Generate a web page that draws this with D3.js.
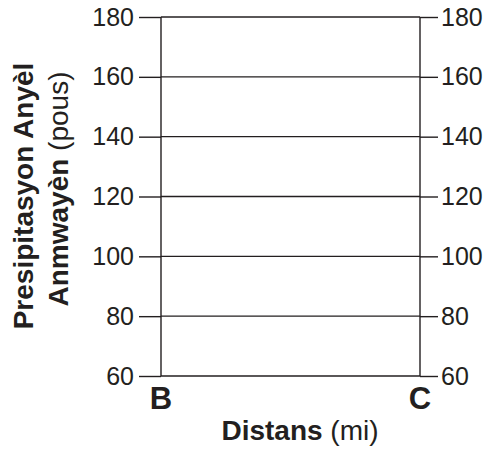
<!DOCTYPE html>
<html>
<head>
<meta charset="utf-8">
<script src="https://cdn.jsdelivr.net/npm/d3@7"></script>
<style>
  body { margin: 0; background: #fff; }
  svg { font-family: "Liberation Sans", Arial, Helvetica, sans-serif; }
  .axis text { font-size: 25px; fill: #231f20; }
  .axis line { stroke: #231f20; stroke-width: 1.4; }
  .axis path { display: none; }
</style>
</head>
<body>
<svg id="chart" width="488" height="454"></svg>
<script>
const places = ['B', 'C'];
const yTicks = [60, 80, 100, 120, 140, 160, 180];
const yRange = [60, 180];

const ink = '#231f20';

const svg = d3.select('#chart');

const xScale = d3.scalePoint().domain(places).range([161, 420]);
const yScale = d3.scaleLinear().domain(yRange).range([376, 17]);

// horizontal grid
svg.append('g')
  .selectAll('line')
  .data(yTicks)
  .enter().append('line')
    .attr('x1', xScale('B'))
    .attr('x2', xScale('C'))
    .attr('y1', d => yScale(d))
    .attr('y2', d => yScale(d))
    .style('stroke', ink)
    .style('stroke-width', 1.4);

// vertical lines at B and C
svg.append('g')
  .selectAll('line')
  .data(places)
  .enter().append('line')
    .attr('x1', d => xScale(d))
    .attr('x2', d => xScale(d))
    .attr('y1', yScale(yRange[0]))
    .attr('y2', yScale(yRange[1]))
    .style('stroke', ink)
    .style('stroke-width', 1.4);

svg.append('g')
  .attr('class', 'axis')
  .attr('transform', translate(xScale('B'), 0))
  .call(d3.axisLeft(yScale).tickValues(yTicks).tickSize(22).tickPadding(5));

svg.append('g')
  .attr('class', 'axis')
  .attr('transform', translate(xScale('C'), 0))
  .call(d3.axisRight(yScale).tickValues(yTicks).tickSize(18).tickPadding(3));

// B / C labels
svg.append('g')
  .selectAll('text')
  .data(places)
  .enter().append('text')
    .attr('x', d => xScale(d))
    .attr('y', 409)
    .attr('text-anchor', 'middle')
    .style('font-size', '31px')
    .style('font-weight', 'bold')
    .style('fill', ink)
    .text(d => d);

// x title
const xt = svg.append('text')
  .attr('x', 300)
  .attr('y', 440)
  .attr('text-anchor', 'middle')
  .style('font-size', '28px')
  .style('fill', ink);
xt.append('tspan').style('font-weight', 'bold').text('Distans');
xt.append('tspan').text(' (mi)');

// y title, two lines
svg.append('text')
  .attr('transform', translate(33, 196) + ' rotate(-90)')
  .attr('text-anchor', 'middle')
  .style('font-size', '28px')
  .style('font-weight', 'bold')
  .style('fill', ink)
  .text('Presipitasyon Anyèl');

const yt2 = svg.append('text')
  .attr('transform', translate(68, 189) + ' rotate(-90)')
  .attr('text-anchor', 'middle')
  .style('font-size', '28px')
  .style('fill', ink);
yt2.append('tspan').style('font-weight', 'bold').text('Anmwayèn');
yt2.append('tspan').text(' (pous)');

function translate(x, y) {
  return `translate(${x}, ${y})`;
}
</script>
</body>
</html>
